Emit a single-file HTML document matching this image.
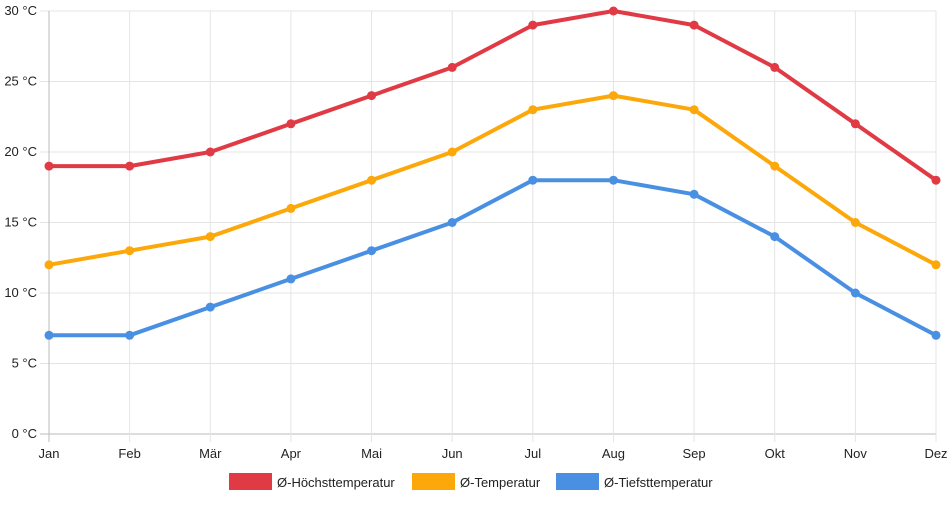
<!DOCTYPE html>
<html><head><meta charset="utf-8"><style>
body{margin:0;background:#fff;font-family:"Liberation Sans",sans-serif;}
svg text{font-family:"Liberation Sans",sans-serif;font-size:13px;fill:#222;}
</style></head><body>
<svg id="chart" width="952" height="500" xmlns="http://www.w3.org/2000/svg">
<g id="grid"></g>
<g id="axes"></g>
<g id="series"></g>
<g id="legend"></g>
</svg>
<script>
const months=["Jan","Feb","Mär","Apr","Mai","Jun","Jul","Aug","Sep","Okt","Nov","Dez"];
const highTemp=[19,19,20,22,24,26,29,30,29,26,22,18];
const avgTemp=[12,13,14,16,18,20,23,24,23,19,15,12];
const lowTemp=[7,7,9,11,13,15,18,18,17,14,10,7];
const yTicks=[0,5,10,15,20,25,30];
const seriesNames=["Ø-Höchsttemperatur","Ø-Temperatur","Ø-Tiefsttemperatur"];
const colors=["#e03a45","#fca80a","#4a90e2"];
const X0=49,X1=936,Y0=434,Y1=11,YMAX=30;
const xs=i=>X0+(X1-X0)*i/(months.length-1);
const ys=v=>Y0-(Y0-Y1)*v/YMAX;
const NS="http://www.w3.org/2000/svg";
function mk(t,a,p){const e=document.createElementNS(NS,t);for(const k in a)e.setAttribute(k,a[k]);p.appendChild(e);return e;}
const grid=document.getElementById('grid'),axes=document.getElementById('axes'),ser=document.getElementById('series'),leg=document.getElementById('legend');
yTicks.forEach(v=>{
 const l=mk('line',{x1:40,x2:X1,y1:ys(v),y2:ys(v),stroke:v===0?'#bbb':'#e4e4e4','stroke-width':1},grid);
 
 
 const t=mk('text',{x:37,y:ys(v)+4,'text-anchor':'end'},axes);
 t.textContent=v+' °C';
 
 
});
months.forEach((m,i)=>{
 const l=mk('line',{x1:xs(i),x2:xs(i),y1:Y1,y2:Y0+8,stroke:i===0?'#bbb':'#e4e4e4','stroke-width':1},grid);
 
 
 const t=mk('text',{x:xs(i),y:458,'text-anchor':'middle'},axes);
 t.textContent=m;
 
 
});
[highTemp,avgTemp,lowTemp].forEach((d,s)=>{
 const g=mk('g',{},ser);
 
 
 const p=mk('polyline',{points:d.map((v,i)=>xs(i)+','+ys(v)).join(' '),fill:'none',stroke:colors[s],'stroke-width':4,'stroke-linejoin':'round'},g);
 
 
 d.forEach((v,i)=>{
  const c=mk('circle',{cx:xs(i),cy:ys(v),r:4.5,fill:colors[s]},g);
  
  
 });
});
const legX=[229,412,556];
seriesNames.forEach((n,s)=>{
 const g=mk('g',{},leg);
 
 
 mk('rect',{x:legX[s],y:473,width:43,height:17,fill:colors[s]},g);
 const t=mk('text',{x:legX[s]+48,y:487},g);
 t.textContent=n;
});
</script>
</body></html>
